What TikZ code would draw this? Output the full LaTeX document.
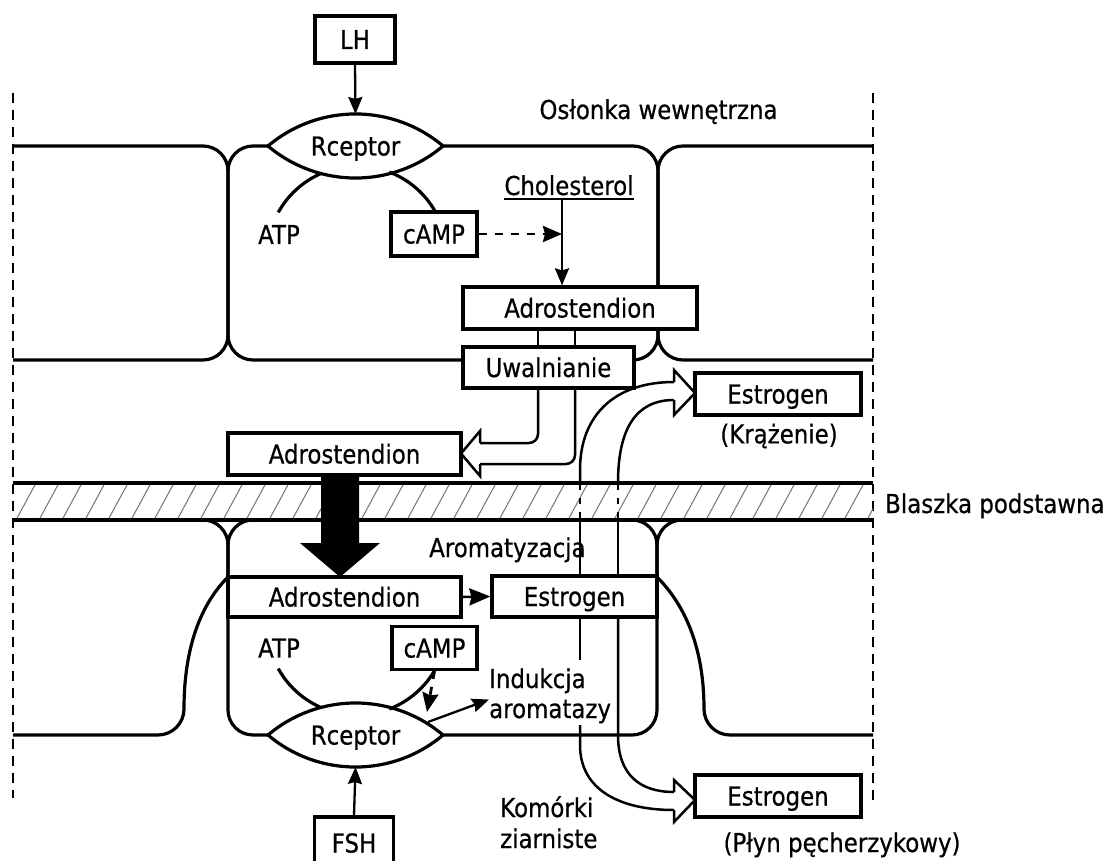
\documentclass[tikz,border=0pt]{standalone}
\usepackage{fontspec}
\setmainfont{DejaVu Sans}[FakeStretch=0.88,FakeBold=0.6]
\usetikzlibrary{arrows.meta}
\begin{document}
\begin{tikzpicture}[x=1pt,y=-1pt,
  font=\fontsize{26pt}{30pt}\selectfont,
  cellline/.style={line width=3.2pt},
  box/.style={draw,line width=3.2pt,fill=white,inner sep=0pt,text height=22pt,text depth=3pt},
  thinl/.style={line width=2.5pt},
  arr/.style={line width=2.3pt,-{Stealth[length=17pt,width=14pt,inset=2pt]}},
  bigarr/.style={line width=2.5pt,-{Stealth[length=21pt,width=17pt,inset=2pt]}},
  darr/.style={line width=2.8pt,dash pattern=on 8pt off 8pt,-{Stealth[length=19pt,width=16pt,inset=2pt]}},
  vdash/.style={line width=1.8pt,dash pattern=on 10pt off 7pt},
  lamdash/.style={line width=2.5pt,dash pattern=on 6pt off 8pt},
  hatchl/.style={line width=1pt,black!55},
  lbl/.style={inner sep=0pt},
  lenslbl/.style={inner sep=0pt,text height=22pt,text depth=3pt}
]
\useasboundingbox (0,0) rectangle (1105,861);

% dashed borders
\draw[vdash] (13,93) -- (13,798);
\draw[vdash] (873,93) -- (873,800);

% upper cells
\draw[cellline] (13,146) -- (203,146) arc[start angle=-90,end angle=0,radius=25] -- (228,335) arc[start angle=0,end angle=90,radius=25] -- (13,360);
\draw[cellline,rounded corners=25pt] (228,146) rectangle (658,360);
\draw[cellline] (873,146) -- (683,146) arc[start angle=-90,end angle=-180,radius=25] -- (658,335) arc[start angle=180,end angle=90,radius=25] -- (873,360);

% basal lamina
\begin{scope}
  \clip (13,485) rectangle (873,518);
  \foreach \i in {-30,-7,...,890} \draw[hatchl] (\i,520) -- (\i+20,483);
\end{scope}
\draw[cellline] (13,483) -- (873,483);

% lower cells
\draw[cellline] (13,520) -- (203,520) arc[start angle=-90,end angle=0,radius=25] -- (228,577) .. controls (205,600) and (184,640) .. (184,709) arc[start angle=0,end angle=90,radius=26] -- (13,735);
\draw[cellline,rounded corners=25pt] (228,520) rectangle (657,735);
\draw[cellline] (873,520) -- (682,520) arc[start angle=-90,end angle=-180,radius=25] -- (657,577) .. controls (680,600) and (704,640) .. (704,709) arc[start angle=180,end angle=90,radius=26] -- (873,735);
\draw[cellline] (13,520) -- (873,520);

% receptors (lens shapes)
\coordinate (r1c) at (355.5,146);
\coordinate (r2c) at (355.5,735);
\draw[cellline,fill=white] (r1c) ++(-87.5,0) arc[start angle=-130.2,end angle=-49.8,radius=135.6] arc[start angle=49.8,end angle=130.2,radius=135.6] -- cycle;
\draw[cellline,fill=white] (r2c) ++(-87.5,0) arc[start angle=-130.2,end angle=-49.8,radius=135.6] arc[start angle=49.8,end angle=130.2,radius=135.6] -- cycle;
\node[lenslbl] (r1) at (r1c) {Rceptor};
\node[lenslbl] (r2) at (r2c) {Rceptor};
\coordinate (r1top) at (355.5,114);
\coordinate (r2bot) at (355.5,767);

% ATP / cAMP arcs
\draw[cellline] (357,256) ++(-151:90) arc[start angle=-151,end angle=-114,radius=90];
\draw[cellline] (357,256) ++(-69:90) arc[start angle=-69,end angle=-29,radius=90];
\draw[cellline] (357,625) ++(151:90) arc[start angle=151,end angle=114,radius=90];
\draw[cellline] (357,625) ++(69:90) arc[start angle=69,end angle=29,radius=90];

% estrogen transport (upwards)
\draw[thinl] (580,576) -- (580,520);
\draw[thinl] (618,576) -- (618,520);
\draw[lamdash] (580,518) -- (580,485);
\draw[lamdash] (618,518) -- (618,485);
\draw[thinl] (580,483) -- (580,470) .. controls (580,415) and (615,382) .. (674,382);
\draw[thinl] (618,483) .. controls (618,430) and (635,400) .. (674,400);
\draw[thinl,line join=miter] (674,382) -- (674,370) -- (695,393) -- (674,415) -- (674,400);

% estrogen transport (downwards)
\draw[thinl] (580,617) -- (580,660);
\draw[thinl] (580,725) -- (580,745) .. controls (580,790) and (620,810) .. (674,810);
\draw[thinl] (618,617) -- (618,735) .. controls (618,775) and (640,792) .. (674,792);
\draw[thinl,line join=miter] (674,792) -- (674,780) -- (695,800) -- (674,822) -- (674,810);

% release -> androstenedione (hollow arrow)
\draw[thinl] (538,329) -- (538,347);
\draw[thinl] (575,329) -- (575,347);
\draw[thinl,rounded corners=9pt] (538,388) -- (538,443) -- (480,443);
\draw[thinl,rounded corners=9pt] (575,388) -- (575,464) -- (480,464);
\draw[thinl,line join=miter] (480,443) -- (480,431) -- (461,453.5) -- (480,476) -- (480,464);

% boxes
\node[box,minimum width=80pt,minimum height=47pt] (lh) at (355,39.5) {LH};
\node[box,minimum width=86pt,minimum height=44pt] (camp1) at (434,234) {cAMP};
\node[box,minimum width=234pt,minimum height=42pt] (adro1) at (580,308) {Adrostendion};
\node[box,minimum width=171pt,minimum height=41pt] (uwal) at (548.5,367.5) {Uwalnianie};
\node[box,minimum width=233pt,minimum height=42pt] (adro2) at (344.5,454) {Adrostendion};
\node[box,minimum width=166pt,minimum height=42pt] (estr1) at (778,394) {Estrogen};
\node[box,minimum width=233pt,minimum height=40pt] (adro3) at (344.5,597) {Adrostendion};
\node[box,minimum width=165pt,minimum height=41pt] (estr2) at (574.5,596.5) {Estrogen};
\node[box,minimum width=85pt,minimum height=43pt] (camp2) at (434.5,648) {cAMP};
\node[box,minimum width=166pt,minimum height=42pt] (estr3) at (778,796) {Estrogen};
\node[box,minimum width=79pt,minimum height=49pt,text depth=0pt] (fsh) at (354,841.5) {FSH};

% big black arrow
\fill (321,475) -- (359,475) -- (359,543) -- (380,543) -- (340,577) -- (300,543) -- (321,543) -- cycle;

% labels
\node[lbl,anchor=base] (oslonka) at (658.5,119) {Osłonka wewnętrzna};
\node[lbl,anchor=base] (chol) at (569,195) {Cholesterol};
\draw[line width=1.6pt] ([yshift=-4pt]chol.base west) -- ([yshift=-4pt]chol.base east);
\node[lbl] (atp1) at (279,234.5) {ATP};
\node[lbl] (atp2) at (279,648) {ATP};
\node[lbl] (kraz) at (779,436) {(Krążenie)};
\node[lbl,anchor=base west] (blaszka) at (885,513) {Blaszka podstawna};
\node[lbl,anchor=base west] (arom) at (429,557) {Aromatyzacja};
\node[lbl,anchor=base west] (ind1) at (489,688) {Indukcja};
\node[lbl,anchor=base west] (ind2) at (489,718) {aromatazy};
\node[lbl,anchor=base west] (kom1) at (500,817) {Komórki};
\node[lbl,anchor=base west] (kom2) at (500,848) {ziarniste};
\node[lbl,anchor=base] (plyn) at (842,852) {(Płyn pęcherzykowy)};

% connectors
\coordinate (cholbot) at (562,199);
\coordinate (cholmid) at (562,234);
\draw[arr] (lh.south) -- (r1top);
\draw[arr] (cholbot) -- (cholbot |- adro1.north);
\draw[darr] (camp1.east) -- (cholmid);
\draw[bigarr] (adro3.east) -- (estr2.west);
\draw[arr] (fsh.north) -- (r2bot);
\coordinate (r2tip) at (427,712);
\draw[darr] (camp2.south) -- (r2tip);
\coordinate (r2out) at (428,722);
\draw[arr] (r2out) -- (ind2.north west);
\end{tikzpicture}
\end{document}
